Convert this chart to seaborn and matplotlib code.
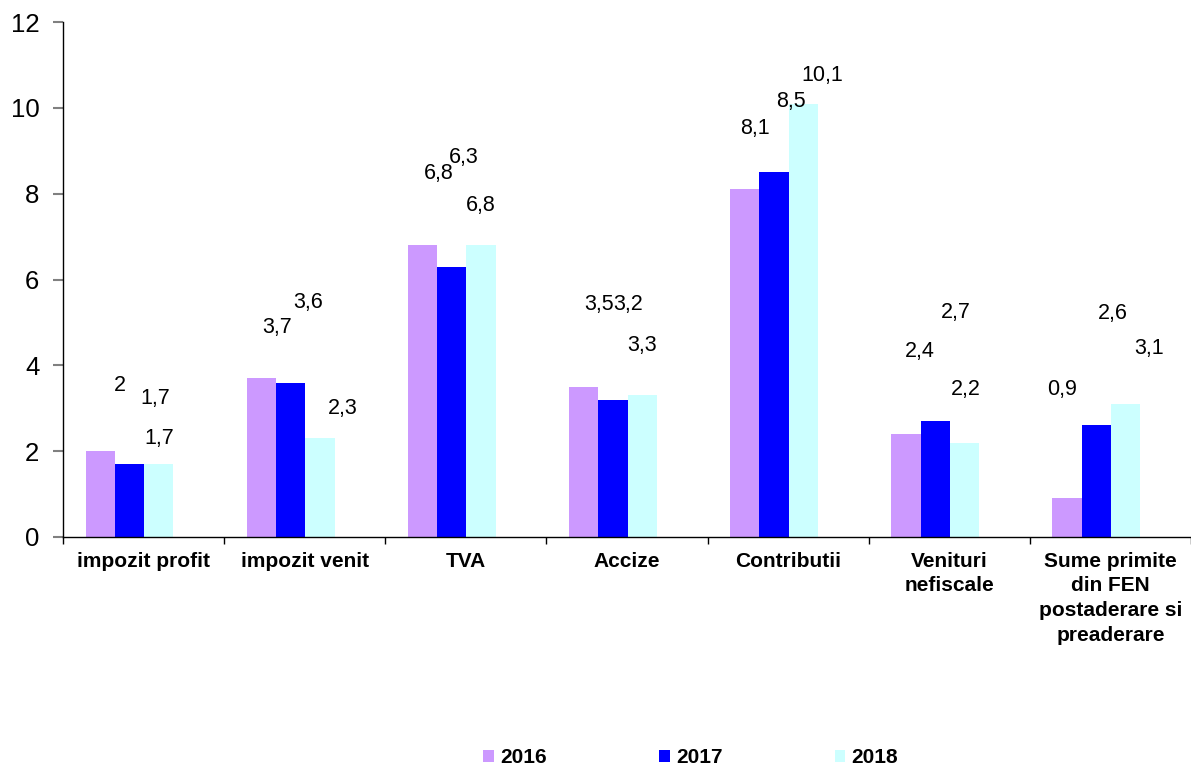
import matplotlib
matplotlib.use("Agg")
import matplotlib.pyplot as plt
import seaborn as sns
import pandas as pd
import numpy as np

categories = ["impozit profit", "impozit venit", "TVA", "Accize", "Contributii",
              "Venituri\nnefiscale", "Sume primite\ndin FEN\npostaderare si\npreaderare"]
years = ["2016", "2017", "2018"]
v2016 = [2.0, 3.7, 6.8, 3.5, 8.1, 2.4, 0.9]
v2017 = [1.7, 3.6, 6.3, 3.2, 8.5, 2.7, 2.6]
v2018 = [1.7, 2.3, 6.8, 3.3, 10.1, 2.2, 3.1]
y_ticks = [0, 2, 4, 6, 8, 10, 12]

colors = ["#CC99FF", "#0000FF", "#CCFFFF"]
# label offsets (pixels, from bar top centre) as placed in the reference
label_offsets = [
    [(20, 66), (15.5, 51), (16, 72), (15.5, 82), (10, 61), (13.5, 83), (-5, 109)],
    [(26, 66), (17, 80), (12, 109), (15, 95), (16.7, 70.6), (21, 108.5), (16.5, 112)],
    [(0, 26), (22.5, 30), (0, 40), (0, 50), (18.7, 27.7), (1, 53), (23.7, 55)],
]

df = pd.DataFrame({
    "cat": categories * 3,
    "year": [y for y in years for _ in categories],
    "val": v2016 + v2017 + v2018,
})

sns.set_style("white")
plt.rcParams["font.family"] = ["Liberation Sans", "DejaVu Sans"]
plt.rcParams["text.color"] = "black"
plt.rcParams["xtick.color"] = "black"
plt.rcParams["ytick.color"] = "black"
plt.rcParams["xtick.labelcolor"] = "black"
plt.rcParams["ytick.labelcolor"] = "black"

fig = plt.figure(figsize=(11.91, 7.69), dpi=100)
ax = fig.add_axes([63 / 1191, 232 / 769, 1 - 63 / 1191, (537 - 22) / 769])

sns.barplot(data=df, x="cat", y="val", hue="year", order=categories, hue_order=years,
            palette=colors, width=0.545, gap=0, linewidth=0, saturation=1,
            legend=True, ax=ax)

for cont, vals, offs in zip(ax.containers, [v2016, v2017, v2018], label_offsets):
    for bar, v, (dx, dy) in zip(cont, vals, offs):
        x = bar.get_x() + bar.get_width() / 2
        txt = f"{v:g}".replace(".", ",")
        ax.annotate(txt, (x, bar.get_height()), xytext=(dx, dy), textcoords="offset pixels",
                    ha="center", va="center", fontsize=15.5, color="black")

shift = 0.087
n = len(categories)
ax.set_xlim(-0.5 + shift, -0.5 + shift + 6.985)
ax.set_xticks([i + shift for i in range(n)])
ax.set_xticklabels(categories, fontsize=15, fontweight="bold", color="black")
for lab in ax.get_xticklabels():
    lab.set_linespacing(1.38)
ax.set_xticks([i - 0.5 + shift for i in range(n + 1)], minor=True)
ax.tick_params(axis="x", which="major", length=0, pad=10.5)
ax.tick_params(axis="x", which="minor", length=5, width=1, color="black", direction="out", bottom=True)

ax.set_ylim(0, 12)
ax.set_yticks(y_ticks)
ax.set_yticklabels([str(t) for t in y_ticks], fontsize=18.5, color="black")
ax.tick_params(axis="y", length=7, width=1.5, color="#808080", direction="out", left=True, pad=10)

ax.set_xlabel("")
ax.set_ylabel("")
for s in ["top", "right"]:
    ax.spines[s].set_visible(False)
ax.spines["left"].set_color("black")
ax.spines["bottom"].set_color("black")
ax.spines["left"].set_linewidth(1)
ax.spines["bottom"].set_linewidth(1)

ax.get_legend().remove()
handles = [plt.Rectangle((0, 0), 1, 1, facecolor=c, edgecolor="none") for c in colors]
leg = fig.legend(handles, years, loc="center", bbox_to_anchor=(0.58, 0.0145), ncol=3,
                 frameon=False, prop={"size": 15, "weight": "bold"}, handlelength=0.5,
                 handleheight=0.5, handletextpad=0.3, columnspacing=5.4, borderpad=0)
for t in leg.get_texts():
    t.set_color("black")

fig.savefig("out.png", dpi=100)
